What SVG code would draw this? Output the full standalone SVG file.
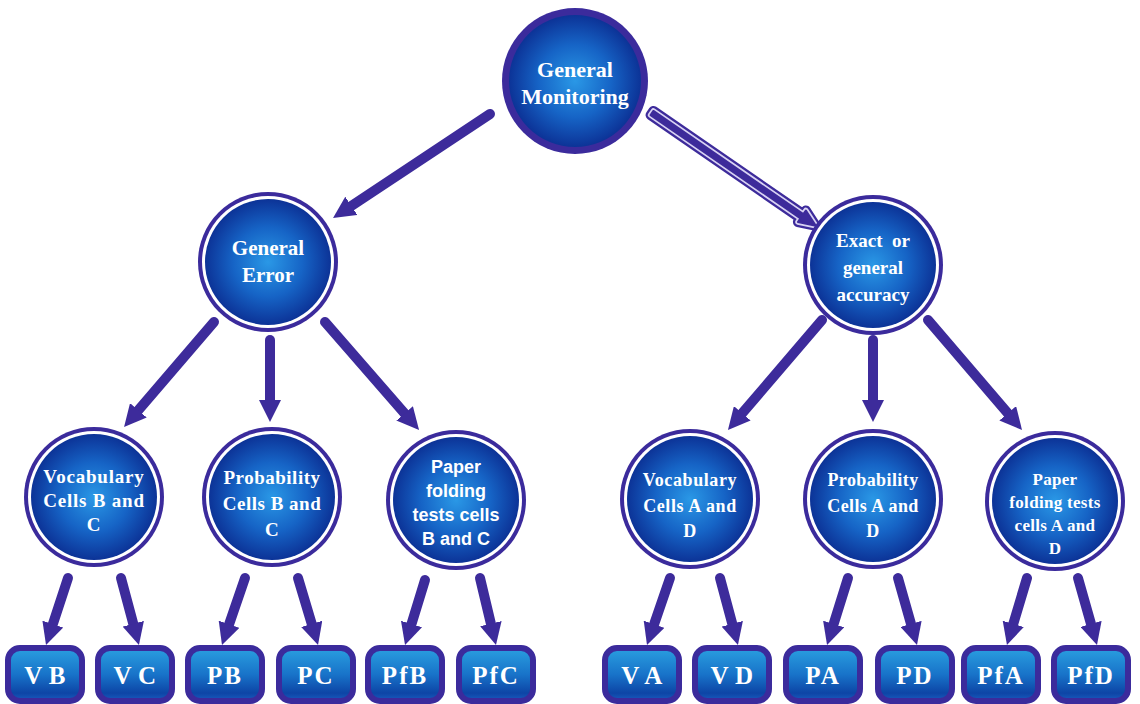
<svg xmlns="http://www.w3.org/2000/svg" width="1140" height="704" viewBox="0 0 1140 704">
<defs>
<radialGradient id="rg" cx="50%" cy="50%" r="50%">
<stop offset="0" stop-color="#2a98e6"/>
<stop offset="0.55" stop-color="#1664c6"/>
<stop offset="1" stop-color="#0c3397"/>
</radialGradient>
<linearGradient id="lg" x1="0" y1="0" x2="0" y2="1">
<stop offset="0" stop-color="#2a9fe0"/>
<stop offset="0.5" stop-color="#1873c9"/>
<stop offset="0.85" stop-color="#0d45a6"/>
<stop offset="1" stop-color="#1a5cc0"/>
</linearGradient>
<marker id="ah" viewBox="0 0 10 10" refX="2" refY="5" markerWidth="2.2" markerHeight="2.2" orient="auto">
<path d="M0,0 L10,5 L0,10 z" fill="#3d2b9b"/>
</marker>
</defs>
<style>
.ring{fill:#3b2b9c}
.gap{fill:#fff}
.core{fill:url(#rg)}
.box{fill:url(#lg);stroke:#3b2b9c;stroke-width:6}
.t{fill:#fff;font-family:"Liberation Serif",serif;font-weight:bold;text-anchor:middle}
.s{fill:#fff;font-family:"Liberation Sans",sans-serif;font-weight:bold;text-anchor:middle}
.bt{fill:#fff;font-family:"Liberation Serif",serif;font-weight:bold;text-anchor:middle;font-size:25px;letter-spacing:2px}
.bv{letter-spacing:0.3px}
.arr{stroke:#3d2b9b;stroke-width:10;stroke-linecap:round;fill:none;marker-end:url(#ah)}
</style>
<g id="connectors">
<line class="arr" x1="490" y1="114" x2="347.7" y2="208.3"/>
<g transform="translate(652,113) rotate(34.56)">
<polygon points="0,-2.5 182,-2.5 182,-7 199,0 182,7 182,2.5 0,2.5" fill="#3d2b9b" stroke="#3d2b9b" stroke-width="10" stroke-linejoin="round"/>
<polygon points="0,-2.5 182,-2.5 182,-7 199,0 182,7 182,2.5 0,2.5" fill="#3d2b9b" stroke="#d9d3f3" stroke-width="5.5" stroke-linejoin="round"/>
<polygon points="0,-2.5 182,-2.5 182,-7 199,0 182,7 182,2.5 0,2.5" fill="#3d2b9b" stroke="#3d2b9b" stroke-width="2" stroke-linejoin="round"/>
</g>
<line class="arr" x1="214" y1="322" x2="135.5" y2="413.6"/>
<line class="arr" x1="270" y1="340" x2="270" y2="404.4"/>
<line class="arr" x1="325" y1="322" x2="407.5" y2="416.7"/>
<line class="arr" x1="822" y1="320" x2="739.4" y2="416.6"/>
<line class="arr" x1="873" y1="340" x2="873" y2="404.4"/>
<line class="arr" x1="928" y1="320" x2="1010.6" y2="416.6"/>
<line class="arr" x1="68" y1="578" x2="51.5" y2="628.3"/>
<line class="arr" x1="121" y1="578" x2="134.4" y2="628"/>
<line class="arr" x1="245" y1="578" x2="227.7" y2="628.4"/>
<line class="arr" x1="298" y1="578" x2="313" y2="628.1"/>
<line class="arr" x1="425" y1="580" x2="410.2" y2="628.2"/>
<line class="arr" x1="480" y1="578" x2="491.9" y2="627.9"/>
<line class="arr" x1="670" y1="578" x2="652.7" y2="628.4"/>
<line class="arr" x1="720" y1="578" x2="733.4" y2="628"/>
<line class="arr" x1="848" y1="578" x2="832.3" y2="628.2"/>
<line class="arr" x1="898" y1="578" x2="912.2" y2="628.1"/>
<line class="arr" x1="1027" y1="578" x2="1012" y2="628.1"/>
<line class="arr" x1="1078" y1="578" x2="1092.2" y2="628.1"/>
</g>
<g id="general-monitoring">
<circle class="ring" cx="575" cy="81" r="73"/>
<circle class="core" cx="575" cy="81" r="66"/>
<text class="t" font-size="22" x="575" y="77">General</text>
<text class="t" font-size="22" x="575" y="104">Monitoring</text>
</g>
<g id="general-error">
<circle class="ring" cx="268" cy="262" r="70"/>
<circle class="gap" cx="268" cy="262" r="66"/>
<circle class="core" cx="268" cy="262" r="63"/>
<text class="t" font-size="21" x="268" y="255">General</text>
<text class="t" font-size="21" x="268" y="282">Error</text>
</g>
<g id="exact-accuracy">
<circle class="ring" cx="873" cy="265" r="70"/>
<circle class="gap" cx="873" cy="265" r="66"/>
<circle class="core" cx="873" cy="265" r="63"/>
<text class="t" font-size="19" x="873" y="247" xml:space="preserve">Exact  or</text>
<text class="t" font-size="19" x="873" y="274">general</text>
<text class="t" font-size="19" x="873" y="301">accuracy</text>
</g>
<g id="vocab-bc">
<circle class="ring" cx="94" cy="497" r="70"/>
<circle class="gap" cx="94" cy="497" r="66"/>
<circle class="core" cx="94" cy="497" r="63"/>
<text class="t" font-size="19" letter-spacing="0.8" x="94" y="483">Vocabulary</text>
<text class="t" font-size="19" letter-spacing="0.8" x="94" y="507">Cells B and</text>
<text class="t" font-size="19" letter-spacing="0.8" x="94" y="531">C</text>
</g>
<g id="prob-bc">
<circle class="ring" cx="272" cy="497" r="70"/>
<circle class="gap" cx="272" cy="497" r="66"/>
<circle class="core" cx="272" cy="497" r="63"/>
<text class="t" font-size="19" letter-spacing="0.5" x="272" y="484">Probability</text>
<text class="t" font-size="19" letter-spacing="0.5" x="272" y="510">Cells B and</text>
<text class="t" font-size="19" letter-spacing="0.5" x="272" y="536">C</text>
</g>
<g id="paper-bc">
<circle class="ring" cx="456" cy="500" r="70"/>
<circle class="gap" cx="456" cy="500" r="66"/>
<circle class="core" cx="456" cy="500" r="63"/>
<text class="s" font-size="18" x="456" y="473">Paper</text>
<text class="s" font-size="18" x="456" y="497">folding</text>
<text class="s" font-size="18" x="456" y="521">tests cells</text>
<text class="s" font-size="18" x="456" y="545">B and C</text>
</g>
<g id="vocab-ad">
<circle class="ring" cx="690" cy="499" r="70"/>
<circle class="gap" cx="690" cy="499" r="66"/>
<circle class="core" cx="690" cy="499" r="63"/>
<text class="t" font-size="18" letter-spacing="0.6" x="690" y="486">Vocabulary</text>
<text class="t" font-size="18" letter-spacing="0.6" x="690" y="512">Cells A and</text>
<text class="t" font-size="18" letter-spacing="0.6" x="690" y="537">D</text>
</g>
<g id="prob-ad">
<circle class="ring" cx="873" cy="499" r="70"/>
<circle class="gap" cx="873" cy="499" r="66"/>
<circle class="core" cx="873" cy="499" r="63"/>
<text class="t" font-size="18" letter-spacing="0.4" x="873" y="486">Probability</text>
<text class="t" font-size="18" letter-spacing="0.4" x="873" y="512">Cells A and</text>
<text class="t" font-size="18" letter-spacing="0.4" x="873" y="537">D</text>
</g>
<g id="paper-ad">
<circle class="ring" cx="1055" cy="501" r="70"/>
<circle class="gap" cx="1055" cy="501" r="66"/>
<circle class="core" cx="1055" cy="501" r="63"/>
<text class="t" font-size="17" letter-spacing="0.3" x="1055" y="485">Paper</text>
<text class="t" font-size="17" letter-spacing="0.3" x="1055" y="508">folding tests</text>
<text class="t" font-size="17" letter-spacing="0.3" x="1055" y="531">cells A and</text>
<text class="t" font-size="17" letter-spacing="0.3" x="1055" y="554">D</text>
</g>
<g id="vb"><rect class="box" x="8" y="648" width="74" height="53" rx="12"/><text class="bt bv" x="45" y="684">V B</text></g>
<g id="vc"><rect class="box" x="98" y="648" width="74" height="53" rx="12"/><text class="bt bv" x="135" y="684">V C</text></g>
<g id="pb"><rect class="box" x="188" y="648" width="74" height="53" rx="12"/><text class="bt" x="225" y="684">PB</text></g>
<g id="pc"><rect class="box" x="279" y="648" width="74" height="53" rx="12"/><text class="bt" x="316" y="684">PC</text></g>
<g id="pfb"><rect class="box" x="368" y="648" width="74" height="53" rx="12"/><text class="bt" x="405" y="684">PfB</text></g>
<g id="pfc"><rect class="box" x="459" y="648" width="74" height="53" rx="12"/><text class="bt" x="496" y="684">PfC</text></g>
<g id="va"><rect class="box" x="605" y="648" width="74" height="53" rx="12"/><text class="bt bv" x="642" y="684">V A</text></g>
<g id="vd"><rect class="box" x="695" y="648" width="74" height="53" rx="12"/><text class="bt bv" x="732" y="684">V D</text></g>
<g id="pa"><rect class="box" x="786" y="648" width="74" height="53" rx="12"/><text class="bt" x="823" y="684">PA</text></g>
<g id="pd"><rect class="box" x="878" y="648" width="74" height="53" rx="12"/><text class="bt" x="915" y="684">PD</text></g>
<g id="pfa"><rect class="box" x="964" y="648" width="74" height="53" rx="12"/><text class="bt" x="1001" y="684">PfA</text></g>
<g id="pfd"><rect class="box" x="1054" y="648" width="74" height="53" rx="12"/><text class="bt" x="1091" y="684">PfD</text></g>
</svg>
